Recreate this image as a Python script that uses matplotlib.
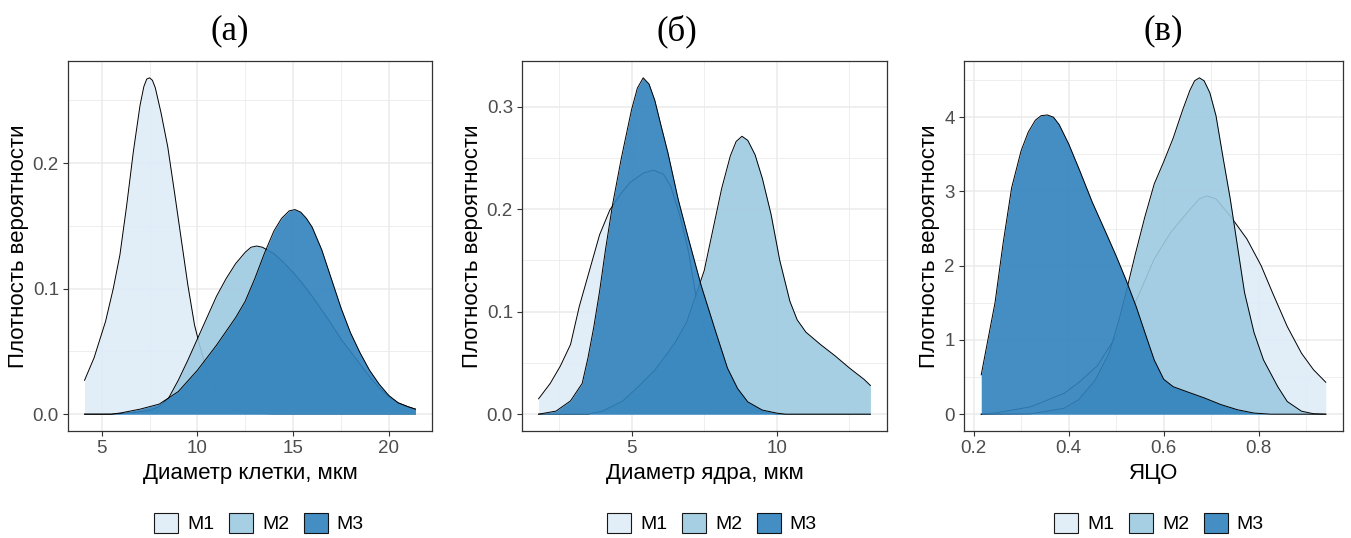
import matplotlib.pyplot as plt
from matplotlib.patches import Patch

plt.rcParams['font.family'] = ['Liberation Sans', 'DejaVu Sans']

W, H = 1351, 538

GROUPS = ["M1", "M2", "M3"]
FILLS = ["#deebf7", "#9ecae1", "#3182bd"]
ALPHA = 0.9

# (а) cell diameter, um
cell_m1_x = [4.1, 4.6, 5.2, 5.6, 5.95, 6.3, 6.65, 7.0, 7.2, 7.35, 7.5, 7.65, 7.8, 8.1, 8.45, 8.8, 9.15, 9.5,
             9.85, 10.1, 10.5, 11.0, 11.5, 12.0, 13.0, 14.0, 21.4]
cell_m1_y = [0.027, 0.045, 0.074, 0.1, 0.127, 0.166, 0.209, 0.246, 0.261, 0.267, 0.268, 0.266, 0.26, 0.24,
             0.213, 0.177, 0.14, 0.103, 0.071, 0.056, 0.034, 0.017, 0.007, 0.003, 0.001, 0.0, 0.0]
cell_m2_x = [4.1, 5.5, 6.5, 7.5, 8.0, 8.5, 9.0, 9.5, 10.0, 10.5, 11.0, 11.5, 12.0, 12.5, 12.8, 13.1, 13.4,
             14.0, 14.5, 15.0, 15.5, 16.0, 16.5, 17.0, 17.5, 18.0, 18.5, 19.0, 19.5, 20.0, 20.5, 21.0, 21.4]
cell_m2_y = [0.0, 0.0, 0.001, 0.003, 0.006, 0.013, 0.027, 0.043, 0.06, 0.077, 0.094, 0.108, 0.12, 0.129,
             0.133, 0.134, 0.133, 0.128, 0.121, 0.113, 0.104, 0.094, 0.083, 0.072, 0.06, 0.05, 0.04, 0.03,
             0.021, 0.014, 0.009, 0.006, 0.004]
cell_m3_x = [4.1, 5.5, 6.0, 7.0, 8.0, 9.0, 10.0, 11.0, 12.0, 12.5, 13.0, 13.5, 14.0, 14.4, 14.8, 15.1, 15.4,
             15.7, 16.0, 16.5, 17.0, 17.5, 18.0, 18.5, 19.0, 19.5, 20.0, 20.5, 21.0, 21.4]
cell_m3_y = [0.0, 0.0, 0.001, 0.004, 0.008, 0.018, 0.035, 0.055, 0.077, 0.09, 0.108, 0.128, 0.146, 0.156,
             0.162, 0.163, 0.161, 0.156, 0.149, 0.131, 0.108, 0.085, 0.065, 0.049, 0.035, 0.024, 0.015,
             0.009, 0.006, 0.004]

# (б) nucleus diameter, um
nuc_m1_x = [1.8, 2.2, 2.55, 2.9, 3.2, 3.55, 3.9, 4.25, 4.6, 4.95, 5.4, 5.75, 6.1, 6.35, 6.65, 6.95, 7.2,
            7.5, 8.0, 8.5, 9.0, 9.5, 10.0, 13.22]
nuc_m1_y = [0.015, 0.03, 0.047, 0.068, 0.105, 0.14, 0.175, 0.199, 0.214, 0.226, 0.235, 0.238, 0.234, 0.222,
            0.195, 0.16, 0.118, 0.085, 0.045, 0.02, 0.007, 0.002, 0.0, 0.0]
nuc_m2_x = [1.8, 3.5, 4.0, 4.7, 5.2, 5.8, 6.2, 6.5, 6.9, 7.2, 7.5, 7.8, 8.1, 8.4, 8.6, 8.8, 9.0, 9.25,
            9.5, 9.8, 10.1, 10.45, 10.7, 11.0, 11.5, 12.0, 12.5, 13.0, 13.22]
nuc_m2_y = [0.0, 0.0, 0.003, 0.013, 0.026, 0.043, 0.058, 0.07, 0.09, 0.115, 0.14, 0.18, 0.22, 0.252, 0.266,
            0.271, 0.267, 0.253, 0.23, 0.195, 0.15, 0.11, 0.092, 0.08, 0.068, 0.057, 0.045, 0.034, 0.028]
nuc_m3_x = [1.8, 2.4, 2.9, 3.3, 3.5, 3.7, 3.9, 4.1, 4.35, 4.65, 5.0, 5.2, 5.4, 5.6, 5.8, 6.0, 6.25, 6.6,
            6.95, 7.4, 7.9, 8.3, 8.65, 9.0, 9.5, 10.0, 10.3, 13.22]
nuc_m3_y = [0.0, 0.003, 0.013, 0.03, 0.055, 0.085, 0.12, 0.16, 0.205, 0.25, 0.297, 0.318, 0.328, 0.322,
            0.306, 0.283, 0.255, 0.21, 0.172, 0.125, 0.08, 0.045, 0.025, 0.012, 0.004, 0.001, 0.0, 0.0]

# (в) nuclear-cytoplasmic ratio
nc_m1_x = [0.216, 0.25, 0.32, 0.39, 0.42, 0.46, 0.49, 0.53, 0.555, 0.58, 0.615, 0.65, 0.675, 0.69, 0.71,
           0.74, 0.775, 0.805, 0.83, 0.86, 0.89, 0.915, 0.941]
nc_m1_y = [0.0, 0.02, 0.1, 0.28, 0.42, 0.65, 0.95, 1.36, 1.72, 2.09, 2.45, 2.72, 2.9, 2.94, 2.9, 2.67, 2.36,
           2.0, 1.62, 1.18, 0.82, 0.6, 0.43]
nc_m2_x = [0.216, 0.32, 0.39, 0.42, 0.455, 0.485, 0.505, 0.52, 0.54, 0.56, 0.58, 0.6, 0.62, 0.64, 0.655,
           0.665, 0.675, 0.685, 0.697, 0.71, 0.725, 0.74, 0.755, 0.77, 0.79, 0.81, 0.84, 0.86, 0.89, 0.915,
           0.941]
nc_m2_y = [0.0, 0.005, 0.08, 0.19, 0.45, 0.82, 1.25, 1.62, 2.15, 2.65, 3.1, 3.4, 3.72, 4.1, 4.36, 4.49, 4.53,
           4.49, 4.33, 4.02, 3.45, 2.9, 2.27, 1.64, 1.1, 0.73, 0.37, 0.17, 0.04, 0.006, 0.0]
nc_m3_x = [0.216, 0.227, 0.245, 0.262, 0.28, 0.3, 0.315, 0.33, 0.342, 0.355, 0.368, 0.38, 0.4, 0.422, 0.45,
           0.478, 0.5, 0.52, 0.542, 0.563, 0.58, 0.6, 0.62, 0.65, 0.685, 0.72, 0.755, 0.79, 0.825, 0.941]
nc_m3_y = [0.53, 0.9, 1.5, 2.3, 3.05, 3.55, 3.8, 3.96, 4.02, 4.03, 4.0, 3.9, 3.64, 3.3, 2.85, 2.45, 2.13,
           1.82, 1.45, 1.05, 0.73, 0.47, 0.37, 0.3, 0.22, 0.13, 0.06, 0.015, 0.0, 0.0]

YLABEL = "Плотность вероятности"


def px_rect(left, right, top=61, bottom=431):
    return [left / W, 1 - bottom / H, (right - left) / W, (bottom - top) / H]


def draw_panel(ax, curves, xticks, xlabels, yticks, ylabels, xlabel):
    for i, (x, y) in enumerate(curves):
        ax.fill_between(x, 0, y, color=FILLS[i], alpha=ALPHA, lw=0, zorder=2 + 2 * i)
        ax.plot(x, y, color="black", lw=0.7, zorder=3 + 2 * i, solid_joinstyle="round")

    step = xticks[1] - xticks[0]
    xminor = [t - step / 2 for t in xticks] + [xticks[-1] + step / 2]
    ystep = yticks[1] - yticks[0]
    yminor = [t + ystep / 2 for t in yticks]
    ax.set_xticks(xticks, xlabels)
    ax.set_yticks(yticks, ylabels)
    ax.set_xticks(xminor, minor=True)
    ax.set_yticks(yminor, minor=True)

    # ggplot-style 5% expansion, set after the ticks so they don't widen it
    xs = [v for x, _ in curves for v in x]
    ys = [v for _, y in curves for v in y]
    xr = max(xs) - min(xs)
    ax.set_xlim(min(xs) - 0.05 * xr, max(xs) + 0.05 * xr)
    ax.set_ylim(-0.05 * max(ys), 1.05 * max(ys))

    ax.grid(True, which="major", color="#ebebeb", lw=1.1, zorder=0)
    ax.grid(True, which="minor", color="#ebebeb", lw=0.6, zorder=0)
    ax.set_axisbelow(True)
    ax.tick_params(which="minor", length=0)
    ax.tick_params(which="major", direction="out", length=3.5, width=0.8, color="#333333",
                   labelcolor="#4d4d4d", labelsize=13.5, pad=3)
    for s in ax.spines.values():
        s.set_color("#333333")
        s.set_linewidth(0.9)
    ax.set_xlabel(xlabel, fontsize=16, labelpad=4)
    ax.set_ylabel(YLABEL, fontsize=16, labelpad=3)


fig = plt.figure(figsize=(W / 100, H / 100), dpi=100)

ax1 = fig.add_axes(px_rect(68, 432))
draw_panel(ax1, [(cell_m1_x, cell_m1_y), (cell_m2_x, cell_m2_y), (cell_m3_x, cell_m3_y)],
           [5, 10, 15, 20], ["5", "10", "15", "20"],
           [0, 0.1, 0.2], ["0.0", "0.1", "0.2"], "Диаметр клетки, мкм")

ax2 = fig.add_axes(px_rect(522, 887))
draw_panel(ax2, [(nuc_m1_x, nuc_m1_y), (nuc_m2_x, nuc_m2_y), (nuc_m3_x, nuc_m3_y)],
           [5, 10], ["5", "10"],
           [0, 0.1, 0.2, 0.3], ["0.0", "0.1", "0.2", "0.3"], "Диаметр ядра, мкм")

ax3 = fig.add_axes(px_rect(964, 1343))
draw_panel(ax3, [(nc_m1_x, nc_m1_y), (nc_m2_x, nc_m2_y), (nc_m3_x, nc_m3_y)],
           [0.2, 0.4, 0.6, 0.8], ["0.2", "0.4", "0.6", "0.8"],
           [0, 1, 2, 3, 4], ["0", "1", "2", "3", "4"], "ЯЦО")

titles = ["(а)", "(б)", "(в)"]
title_x = [230, 677, 1163]
legend_x = [259, 712, 1159]
for t, tx, lx in zip(titles, title_x, legend_x):
    fig.text(tx / W, 1 - 31 / H, t, ha="center", va="center", fontsize=25,
             family=["Liberation Serif", "DejaVu Serif"])
    handles = [Patch(facecolor=c, alpha=ALPHA, edgecolor="black", lw=0.8) for c in FILLS]
    fig.legend(handles, GROUPS, loc="center", bbox_to_anchor=(lx / W, 1 - 523 / H), ncol=3,
               frameon=False, fontsize=14, handlelength=1.25, handleheight=1.25,
               handletextpad=0.45, columnspacing=0.75)

fig.savefig("out.png", dpi=100)
